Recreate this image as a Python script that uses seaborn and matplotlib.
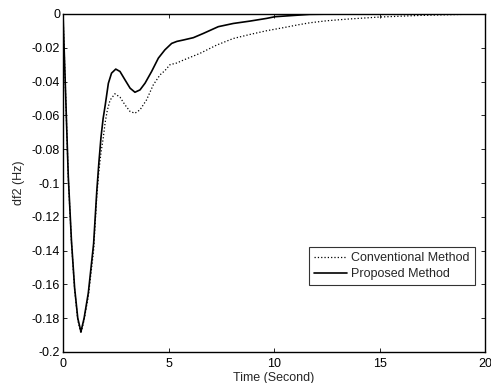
import matplotlib
matplotlib.use("Agg")
import matplotlib.pyplot as plt
import matplotlib.ticker as mticker
import pandas as pd
import seaborn as sns

# Frequency deviation of area 2 after a load step
t_proposed = [0, 0.1, 0.25, 0.4, 0.55, 0.7, 0.85, 1.0, 1.2, 1.45, 1.6, 1.7, 1.8,
              1.9, 2.0, 2.15, 2.3, 2.5, 2.7, 2.94, 3.18, 3.41, 3.65, 3.89, 4.2,
              4.52, 4.83, 5.15, 5.4, 5.7, 6.18, 6.65, 7.36, 8.07, 8.86, 9.65,
              10.05, 10.76, 11.7, 13, 14, 20]
df_proposed = [0, -0.038, -0.096, -0.134, -0.162, -0.180, -0.188, -0.180, -0.165,
               -0.136, -0.105, -0.088, -0.073, -0.062, -0.054, -0.041, -0.035,
               -0.0326, -0.034, -0.039, -0.0439, -0.0463, -0.0449, -0.0409,
               -0.034, -0.0261, -0.0212, -0.0174, -0.0162, -0.0154, -0.014,
               -0.0115, -0.0075, -0.0056, -0.0042, -0.0026, -0.0016, -0.001,
               -0.0002, 0, 0, 0]

t_conventional = [0, 0.1, 0.25, 0.4, 0.55, 0.7, 0.85, 1.0, 1.2, 1.45, 1.6, 1.7, 1.8,
                  1.9, 2.0, 2.1, 2.23, 2.46, 2.7, 2.94, 3.18, 3.41, 3.65, 3.96,
                  4.28, 4.6, 4.83, 5.07, 5.39, 5.7, 6.49, 7.28, 8.07, 8.86, 9.65,
                  10.44, 11.23, 11.7, 12.5, 13.5, 15, 17, 19, 20]
df_conventional = [0, -0.038, -0.097, -0.135, -0.163, -0.181, -0.189, -0.181, -0.167,
                   -0.140, -0.108, -0.093, -0.082, -0.074, -0.064, -0.057, -0.051,
                   -0.0472, -0.0492, -0.0538, -0.0577, -0.0587, -0.0567, -0.0508,
                   -0.0419, -0.036, -0.0335, -0.030, -0.029, -0.0273, -0.0233,
                   -0.0184, -0.0145, -0.0121, -0.0099, -0.0081, -0.0062, -0.0052,
                   -0.004, -0.003, -0.0018, -0.0008, -0.0002, -0.0001]

x_ticks = [0, 5, 10, 15, 20]
y_ticks = [0, -0.02, -0.04, -0.06, -0.08, -0.1, -0.12, -0.14, -0.16, -0.18, -0.2]

sns.set_theme(style="ticks")
plt.rcParams["font.family"] = ["Liberation Sans", "DejaVu Sans"]
plt.rcParams["axes.unicode_minus"] = False

fig = plt.figure(figsize=(4.91, 3.83), dpi=100)
ax = fig.add_axes([63 / 491, 31 / 383, 422 / 491, 338 / 383])

conv = pd.DataFrame({"t": t_conventional, "df": df_conventional})
prop = pd.DataFrame({"t": t_proposed, "df": df_proposed})

sns.lineplot(data=conv, x="t", y="df", ax=ax, color="black", linestyle=":",
             linewidth=0.9, label="Conventional Method", sort=False)
sns.lineplot(data=prop, x="t", y="df", ax=ax, color="black", linestyle="-",
             linewidth=1.2, label="Proposed Method", sort=False)

ax.set_xlim(0, 20)
ax.set_ylim(-0.2, 0)
ax.set_xticks(x_ticks)
ax.set_yticks(y_ticks)
ax.yaxis.set_major_formatter(mticker.FuncFormatter(lambda v, p: "%g" % round(v, 3) if v != 0 else "0"))
ax.xaxis.set_major_formatter(mticker.FuncFormatter(lambda v, p: "%g" % v))
ax.tick_params(direction="in", length=3, width=0.6, labelsize=9, top=True,
               right=True, colors="black")
ax.tick_params(axis="y", pad=2)
ax.tick_params(axis="x", pad=4)
for s in ax.spines.values():
    s.set_visible(True)
    s.set_linewidth(1.0)
    s.set_color("black")

ax.set_xlabel("Time (Second)", fontsize=9, labelpad=2)
ax.set_ylabel("df2 (Hz)", fontsize=9, labelpad=5)

leg = ax.legend(loc="lower right", bbox_to_anchor=(0.976, 0.198), borderaxespad=0,
                fontsize=9, frameon=True, fancybox=False, handlelength=2.6,
                handletextpad=0.35, labelspacing=0.3, borderpad=0.4)
leg.get_frame().set_edgecolor("black")
leg.get_frame().set_linewidth(0.8)

fig.savefig("out.png", dpi=100)
